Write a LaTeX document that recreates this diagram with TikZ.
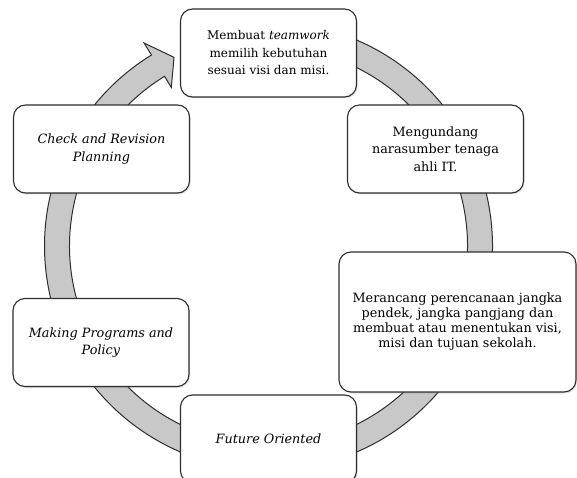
\documentclass[tikz,border=0pt]{standalone}
\usepackage{fontspec}
\setmainfont{DejaVu Serif}
\usetikzlibrary{shadows,calc}
\definecolor{ringgray}{RGB}{200,200,200}
\definecolor{edgegray}{RGB}{45,45,45}
\tikzset{
  cyclebox/.style={draw=edgegray, line width=1.1pt, fill=white, rounded corners=12pt,
    minimum width=176pt, minimum height=88pt, align=center, inner sep=2pt,
    font=\fontsize{12.8}{17.5}\selectfont,
    drop shadow={opacity=0.25, shadow xshift=1pt, shadow yshift=-1.5pt}},
  ringstyle/.style={draw=edgegray, line width=1pt, fill=ringgray}
}
\begin{document}
\begin{tikzpicture}[x=1pt,y=1pt]
\useasboundingbox (0,0) rectangle (577,477);
\coordinate (C) at (268.5,231);
% ring with arrowhead
\draw[ringstyle] ($(C)+(95:224pt)$) arc[start angle=95, end angle=-238.5, radius=224pt]
  -- ($(C)+(-238.5:238pt)$) -- ($(C)+(-243.4:211pt)$) -- ($(C)+(-238.5:186pt)$)
  -- ($(C)+(-238.5:199pt)$) arc[start angle=-238.5, end angle=95, radius=199pt] -- cycle;
% boxes
\node[cyclebox, font=\fontsize{12}{17.5}\selectfont] (top) at (268.5,424) {Membuat \textit{teamwork}\\memilih kebutuhan\\sesuai visi dan misi.};
\node[cyclebox] (meng) at (435.5,328) {Mengundang\\narasumber tenaga\\ahli IT.};
\node[cyclebox, minimum width=237pt, minimum height=140pt, font=\fontsize{12.8}{15}\selectfont] (meran) at (457.5,155)
  {Merancang perencanaan jangka\\pendek, jangka pangjang dan\\membuat atau menentukan visi,\\misi dan tujuan sekolah.};
\node[cyclebox] (future) at (268.5,38) {\textit{Future Oriented}};
\node[cyclebox] (making) at (101,134.5) {\textit{Making Programs and}\\\textit{Policy}};
\node[cyclebox] (check) at (101.5,328) {\textit{Check and Revision}\\\textit{Planning}};
\end{tikzpicture}
\end{document}
